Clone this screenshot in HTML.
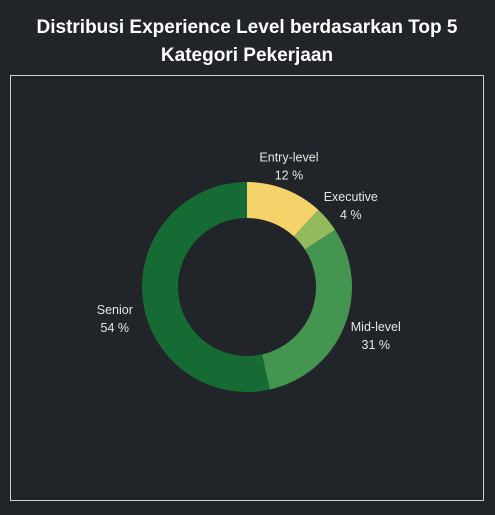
<!DOCTYPE html>
<html><head><meta charset="utf-8"><style>
body{margin:0;background:#212428;width:495px;height:510px;overflow:hidden;font-family:"Liberation Sans",sans-serif;}
</style></head><body>
<svg width="495" height="510">
<rect x="0" y="0" width="495" height="510" fill="#212428"/>
<text x="247" y="33" fill="#fff" font-size="19" font-weight="bold" text-anchor="middle">Distribusi Experience Level berdasarkan Top 5</text>
<text x="247" y="61" fill="#fff" font-size="19" font-weight="bold" text-anchor="middle">Kategori Pekerjaan</text>
<rect x="10.5" y="75.5" width="473" height="425" fill="none" stroke="#d0d0d0" stroke-width="1"/>
<g id="donut"></g>
</svg>
<script>
const categories=["Entry-level","Executive","Mid-level","Senior"];
const values=[12,4,31,54];
const colors=["#f5d26a","#91bb5c","#43954f","#166b35"];
const labelDx=[-8,-1,2,4];
const labelDy=[5,5,-5,15];
const cx=247,cy=287,R=105,r=69;
const g=document.getElementById('donut');
const ns="http://www.w3.org/2000/svg";
const total=values.reduce((a,b)=>a+b,0);
function pt(a,rad){return [cx+rad*Math.sin(a),cy-rad*Math.cos(a)];}
let acc=0;
values.forEach((v,i)=>{
  const a0=acc/total*2*Math.PI; acc+=v; const a1=acc/total*2*Math.PI;
  const large=(a1-a0)>Math.PI?1:0;
  const [x0,y0]=pt(a0,R),[x1,y1]=pt(a1,R),[x2,y2]=pt(a1,r),[x3,y3]=pt(a0,r);
  const p=document.createElementNS(ns,'path');
  p.setAttribute('d',`M${x0},${y0}A${R},${R} 0 ${large} 1 ${x1},${y1}L${x2},${y2}A${r},${r} 0 ${large} 0 ${x3},${y3}Z`);
  p.setAttribute('fill',colors[i]);
  
  
  g.appendChild(p);
  const am=(a0+a1)/2;
  let [lx,ly]=pt(am,R+32);
  lx+=labelDx[i]; ly+=labelDy[i];
  const t1=document.createElementNS(ns,'text');
  t1.setAttribute('x',lx);t1.setAttribute('y',ly-3);
  t1.setAttribute('fill','#e6e6e6');t1.setAttribute('font-size','12.5');t1.setAttribute('text-anchor','middle');
  t1.textContent=categories[i];
  
  
  g.appendChild(t1);
  const t2=document.createElementNS(ns,'text');
  t2.setAttribute('x',lx);t2.setAttribute('y',ly+15);
  t2.setAttribute('fill','#e6e6e6');t2.setAttribute('font-size','12.5');t2.setAttribute('text-anchor','middle');
  t2.textContent=v+' %';
  
  
  g.appendChild(t2);
});
</script>
</body></html>
